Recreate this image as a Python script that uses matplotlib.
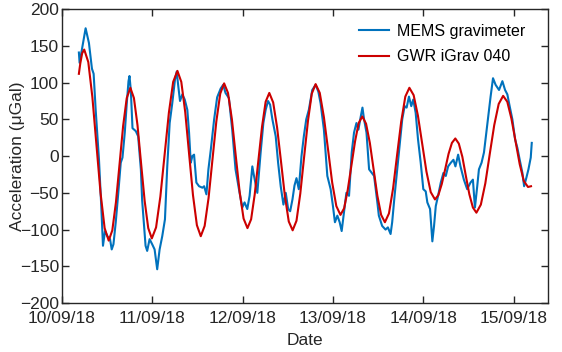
import pandas as pd
import matplotlib
matplotlib.use('Agg')
import matplotlib.pyplot as plt
import matplotlib.dates as mdates

# time in hours since 10/09/18 00:00
t0 = pd.Timestamp('2018-09-10 00:00')

mems_h = [4.53, 4.72, 6.32, 7.20, 8.00, 8.45, 8.99, 9.87, 10.51, 10.93, 11.47, 12.11, 12.80, 13.25,
          13.71, 14.32, 14.93, 15.65, 16.11, 16.72, 17.25, 17.71, 17.97, 18.32, 18.77, 19.65, 20.27,
          20.99, 21.33, 22.24, 22.67, 23.31, 24.00, 24.64, 25.33, 25.97, 26.67, 27.39, 28.00, 28.64,
          29.33, 30.05, 30.51, 30.93, 31.39, 32.00, 32.64, 33.33, 33.79, 34.24, 34.67, 35.12, 35.73,
          36.45, 37.33, 37.79, 38.40, 38.93, 39.57, 40.45, 41.25, 42.19, 42.85, 43.47, 44.37, 45.25,
          46.13, 47.04, 47.92, 48.53, 49.25, 49.87, 50.59, 51.04, 51.92, 52.80, 53.52, 54.13, 54.77,
          55.31, 55.92, 56.80, 57.44, 58.13, 58.85, 59.47, 60.11, 60.64, 61.25, 61.79, 62.32, 62.93,
          63.65, 64.27, 64.91, 65.60, 66.51, 67.39, 68.11, 68.72, 69.60, 70.51, 71.39, 72.00, 72.53,
          73.17, 73.79, 74.32, 74.93, 75.57, 76.27, 76.99, 77.60, 78.24, 78.77, 79.39, 79.84, 80.27,
          80.91, 81.60, 82.32, 82.93, 83.84, 84.19, 85.07, 85.97, 86.59, 87.31, 87.73, 88.37, 89.07,
          89.79, 90.40, 91.04, 91.57, 92.19, 92.80, 93.33, 93.97, 94.59, 95.31, 96.00, 96.64, 97.07,
          97.79, 98.40, 98.85, 99.31, 99.92, 100.64, 101.33, 101.97, 102.59, 103.31, 104.00, 104.53,
          105.25, 105.87, 106.77, 107.65, 108.53, 109.17, 109.71, 110.32, 110.77, 111.47, 112.11,
          112.53, 113.25, 113.87, 114.51, 115.20, 116.11, 117.00, 117.71, 118.32, 118.93, 119.65,
          120.37, 120.99, 121.60, 122.32, 122.77, 123.39, 123.92, 124.53, 124.80]
mems_v = [141, 127, 174, 154, 119, 112, 63, -5, -72, -122, -102, -109, -113, -127,
          -120, -90, -54, -9, -2, 32, 72, 102, 109, 90, 38, 34, 27,
          -18, -60, -122, -129, -113, -120, -127, -154, -127, -109, -86, -14, 45,
          72, 104, 115, 95, 75, 84, 77, 63, 32, -9, 0, 2, -36,
          -41, -43, -41, -52, -18, 9, 50, 80, 92, 97, 86, 79, 36,
          -18, -45, -70, -63, -72, -54, -14, -27, -50, 5, 45, 63, 75,
          70, 50, 27, -9, -41, -66, -50, -72, -75, -59, -40, -30, -45,
          0, 27, 50, 63, 90, 97, 88, 72, 36, -27, -45, -68, -90,
          -81, -90, -102, -77, -50, -54, 5, 32, 45, 36, 54, 66, 50,
          32, -18, -23, -27, -65, -81, -95, -100, -97, -106, -90, -54, -18,
          18, 50, 68, 66, 81, 68, 77, 59, 23, -9, -45, -48, -63,
          -72, -116, -95, -68, -54, -36, -23, -27, -14, -9, -5, -14,
          2, -14, -32, -45, -36, -32, -70, -41, -18, -9, 5,
          23, 54, 81, 106, 97, 90, 102, 90, 84, 68, 50,
          23, 11, -5, -23, -41, -29, -18, -2, 18]

gwr_h = [4.53, 4.9, 5.4, 5.95, 7.03, 8.12, 9.20, 10.28, 11.37,
         12.45, 13.41, 14.37, 15.33, 16.28, 17.24,
         18.2, 19.15, 20.1, 21.05, 22.0, 22.95,
         23.9, 25.03, 26.17, 27.3, 28.43, 29.57,
         30.7, 31.73, 32.77, 33.8, 34.83, 35.87,
         36.9, 37.93, 38.97, 40.0, 41.03, 42.07,
         43.1, 44.13, 45.17, 46.2, 47.23, 48.27,
         49.3, 50.27, 51.23, 52.2, 53.17, 54.13,
         55.1, 56.13, 57.17, 58.2, 59.23, 60.27,
         61.3, 62.32, 63.33, 64.35, 65.37, 66.38,
         67.4, 68.5, 69.6, 70.7, 71.8, 72.9,
         74.0, 74.97, 75.93, 76.9, 77.87, 78.83,
         79.8, 80.8, 81.8, 82.8, 83.8, 84.8,
         85.8, 86.88, 87.97, 89.05, 90.13, 91.22,
         92.3, 93.43, 94.57, 95.7, 96.83, 97.97,
         99.1, 100.0, 100.9, 101.8, 102.7, 103.6,
         104.5, 105.43, 106.37, 107.3, 108.23, 109.17,
         110.1, 111.28, 112.47, 113.65, 114.83, 116.02,
         117.2, 118.3, 119.4, 120.5, 121.6, 122.7,
         123.8, 124.6]
gwr_v = [112, 126, 140, 145, 128, 80, 15, -50, -98,
         -115, -101, -63, -11, 41, 79,
         93, 79, 42, -10, -61, -98,
         -112, -97, -55, 2, 59, 101,
         116, 101, 60, 3, -53, -94,
         -109, -95, -57, -5, 47, 85,
         99, 86, 50, 0, -49, -85,
         -98, -86, -52, -6, 40, 74,
         86, 73, 39, -7, -54, -89,
         -101, -88, -51, -1, 48, 85,
         98, 86, 53, 9, -36, -68,
         -80, -71, -46, -13, 20, 45,
         54, 44, 18, -18, -54, -80,
         -90, -78, -44, 2, 47, 81,
         93, 83, 55, 17, -21, -49,
         -59, -53, -38, -18, 3, 18,
         24, 17, -1, -27, -52, -70,
         -77, -66, -37, 3, 42, 71,
         82, 74, 51, 20, -11, -34,
         -42, -41]

mems_t = t0 + pd.to_timedelta(mems_h, unit='h')
gwr_t = t0 + pd.to_timedelta(gwr_h, unit='h')

plt.rcParams['font.family'] = ['Liberation Sans', 'DejaVu Sans']

fig = plt.figure(figsize=(5.62, 3.52), dpi=100)
ax = fig.add_axes([0.110, 0.139, 0.865, 0.835])

ax.plot(mems_t, mems_v, color='#0072BD', lw=1.5, label='MEMS gravimeter')
ax.plot(gwr_t, gwr_v, color='#CC0000', lw=1.5, label='GWR iGrav 040')

ax.set_xlim(t0, t0 + pd.Timedelta(hours=129.1))
ax.set_ylim(-200, 200)
ax.set_yticks(range(-200, 201, 50))
ax.xaxis.set_major_locator(mdates.DayLocator())
ax.xaxis.set_major_formatter(mdates.DateFormatter('%d/%m/%y'))

ax.tick_params(direction='in', top=True, right=True, length=5, width=1,
               labelsize=12.5, colors='#262626')
ax.tick_params(axis='x', pad=6)
ax.tick_params(axis='y', pad=2)
for s in ax.spines.values():
    s.set_color('#262626')
    s.set_linewidth(1)

ax.set_xlabel('Date', fontsize=12.5, color='#262626', labelpad=4.5)
ax.set_ylabel('Acceleration (μGal)', fontsize=12.5, color='#262626', labelpad=-4)

ax.legend(loc='upper right', bbox_to_anchor=(0.973, 0.983), frameon=False,
          fontsize=11.5, handlelength=1.9, handletextpad=0.5,
          borderaxespad=0.2, labelspacing=0.65)

fig.savefig('out.png', dpi=100)
